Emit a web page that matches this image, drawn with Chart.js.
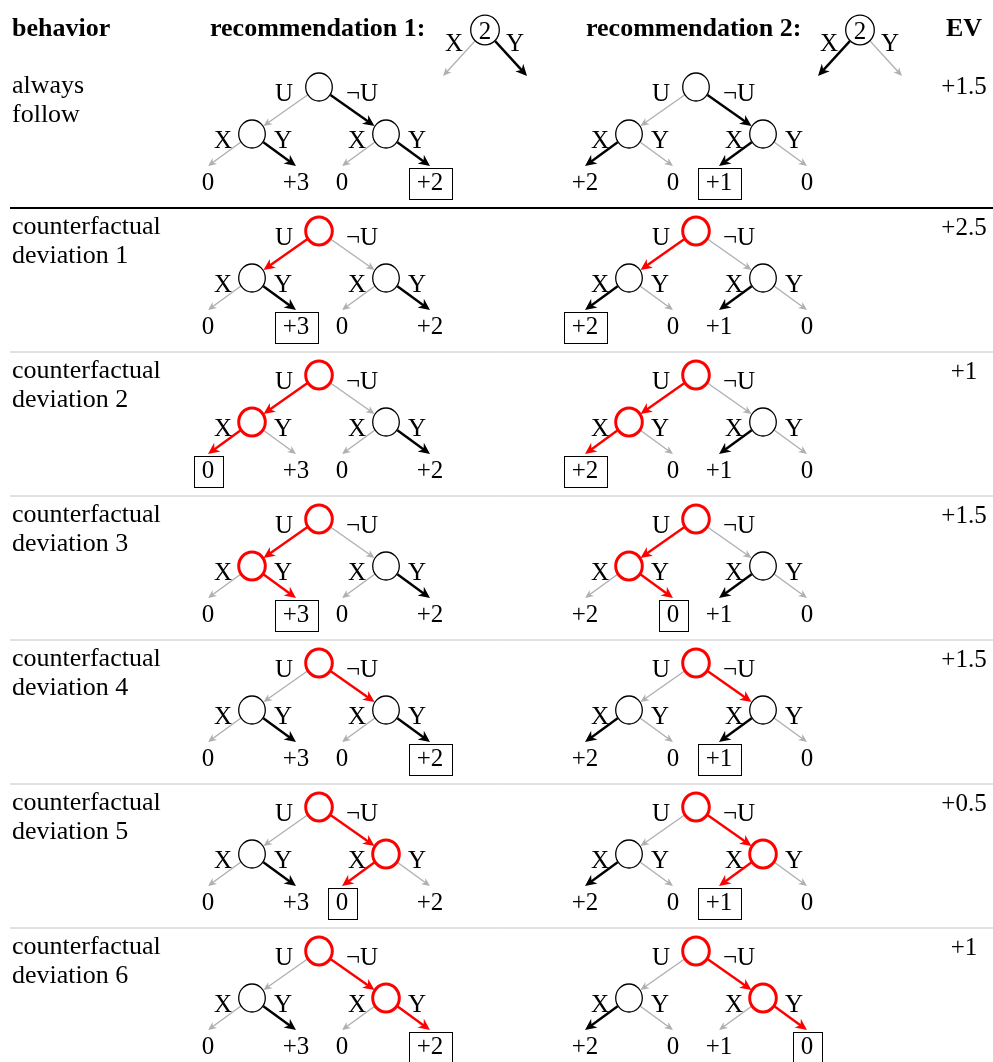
<!DOCTYPE html>
<html>
<head>
<meta charset="utf-8">
<script src="https://cdn.jsdelivr.net/npm/chart.js@4.4.1/dist/chart.umd.min.js"></script>
<style>
  html, body { margin: 0; padding: 0; background: #fff; }
  canvas { display: block; }
</style>
</head>
<body>
<canvas id="fig" width="993" height="1062"></canvas>
<script>
// ---- table content ----
const behaviors = [
  ['always', 'follow'],
  ['counterfactual', 'deviation 1'],
  ['counterfactual', 'deviation 2'],
  ['counterfactual', 'deviation 3'],
  ['counterfactual', 'deviation 4'],
  ['counterfactual', 'deviation 5'],
  ['counterfactual', 'deviation 6'],
];
const evValues = ['+1.5', '+2.5', '+1', '+1.5', '+1.5', '+0.5', '+1'];
const headers = ['behavior', 'recommendation 1:', 'recommendation 2:', 'EV'];

// payoffs at the 4 leaves (U X, U Y, notU X, notU Y)
const rec1Payoffs = ['0', '+3', '0', '+2'];
const rec2Payoffs = ['+2', '0', '+1', '0'];
const rootLabels = ['U', '\u00acU'];
const actionLabels = ['X', 'Y'];

// edge order: root->U, root->notU, U->X, U->Y, notU->X, notU->Y
// g = greyed out, b = recommended/followed, r = deviation
const rec1Edges = ['gbgbgb', 'rggbgb', 'rgrggb', 'rggrgb', 'grgbgb', 'grgbrg', 'grgbgr'];
const rec2Edges = ['gbbgbg', 'rgbgbg', 'rgrgbg', 'rggrbg', 'grbgbg', 'grbgrg', 'grbggr'];
// deviating nodes: root, U child, notU child
const rec1Nodes = ['---', 'r--', 'rr-', 'rr-', 'r--', 'r-r', 'r-r'];
const rec2Nodes = ['---', 'r--', 'rr-', 'rr-', 'r--', 'r-r', 'r-r'];
// index of the reached leaf
const rec1Reached = [3, 1, 0, 1, 3, 2, 3];
const rec2Reached = [2, 0, 0, 1, 2, 2, 3];
// the recommendation at information set 2 (X, Y)
const rec1Header = 'gb';
const rec2Header = 'bg';

// ---- layout ----
const W = 993, H = 1062;
const treeX = [319, 696];
const rowY0 = 87, rowStep = 144;
const childDX = 67, childDY = 47;
const leafDX = 44, leafDY = 32;
const nodeRX = 13.3, nodeRY = 14;
const headRX = 14.3, headRY = 14.8;
const headNodes = [{ x: 485, y: 30 }, { x: 860, y: 30 }];
const serif = '"Liberation Serif", "Times New Roman", serif';

const edgeStyle = {
  g: { color: '#b0b0b0', width: 1.4, head: 8.5, half: 3.8 },
  b: { color: '#000000', width: 2.4, head: 11.5, half: 5.4 },
  r: { color: '#ff0000', width: 2.4, head: 11.5, half: 5.4 },
};

function nodeImage(color, lw, rx, ry) {
  const c = document.createElement('canvas');
  c.width = 2 * Math.ceil(rx + lw / 2 + 1);
  c.height = 2 * Math.ceil(ry + lw / 2 + 1);
  const g = c.getContext('2d');
  g.fillStyle = '#ffffff';
  g.strokeStyle = color;
  g.lineWidth = lw;
  g.beginPath();
  g.ellipse(c.width / 2, c.height / 2, rx, ry, 0, 0, 2 * Math.PI);
  g.fill();
  g.stroke();
  return c;
}
const nodeStyles = {
  plain: nodeImage('#000000', 1.3, nodeRX, nodeRY),
  red: nodeImage('#ff0000', 3, nodeRX, nodeRY),
  head: nodeImage('#000000', 1.3, headRX, headRY),
};

const datasets = [];
const texts = [];
const boxes = [];
const nodePts = [], nodeLooks = [];

function rim(ux, uy, rx, ry) {
  return 1 / Math.sqrt((ux / rx) ** 2 + (uy / ry) ** 2) + 0.5;
}

function addEdge(a, b, toNode, kind, rx, ry) {
  const dx = b.x - a.x, dy = b.y - a.y, len = Math.hypot(dx, dy);
  const ux = dx / len, uy = dy / len;
  const st = edgeStyle[kind];
  const r = rim(ux, uy, rx, ry);
  const start = { x: a.x + ux * r, y: a.y + uy * r };
  const tip = toNode ? { x: b.x - ux * r, y: b.y - uy * r } : { x: b.x, y: b.y };
  const neck = { x: tip.x - ux * st.head * 0.6, y: tip.y - uy * st.head * 0.6 };
  datasets.push({
    data: [start, neck],
    showLine: true,
    borderColor: st.color,
    borderWidth: st.width,
    pointRadius: 0,
    order: 1,
    arrowTip: tip,
    arrowStyle: st,
  });
}

function addNode(p, look) {
  nodePts.push({ x: p.x, y: p.y });
  nodeLooks.push(nodeStyles[look]);
}

function addText(x, y, text, font, align) {
  texts.push({ x, y, text, font, align: align || 'center' });
}

function addTree(ox, oy, edges, nodes, reached, payoffs) {
  const root = { x: ox, y: oy };
  const kids = [{ x: ox - childDX, y: oy + childDY }, { x: ox + childDX, y: oy + childDY }];
  addEdge(root, kids[0], true, edges[0], nodeRX, nodeRY);
  addEdge(root, kids[1], true, edges[1], nodeRX, nodeRY);
  kids.forEach((k, i) => {
    addEdge(k, { x: k.x - leafDX, y: k.y + leafDY }, false, edges[2 + 2 * i], nodeRX, nodeRY);
    addEdge(k, { x: k.x + leafDX, y: k.y + leafDY }, false, edges[3 + 2 * i], nodeRX, nodeRY);
  });
  addNode(root, nodes[0] === 'r' ? 'red' : 'plain');
  addNode(kids[0], nodes[1] === 'r' ? 'red' : 'plain');
  addNode(kids[1], nodes[2] === 'r' ? 'red' : 'plain');
  const small = '25px ' + serif;
  addText(ox - 35, oy + 14, rootLabels[0], small);
  addText(ox + 43, oy + 14, rootLabels[1], small);
  kids.forEach(k => {
    addText(k.x - 29, k.y + 13.5, actionLabels[0], small);
    addText(k.x + 31, k.y + 13.5, actionLabels[1], small);
  });
  const leafX = [kids[0].x - leafDX, kids[0].x + leafDX, kids[1].x - leafDX, kids[1].x + leafDX];
  payoffs.forEach((v, i) => {
    addText(leafX[i], oy + 103, v, small);
    if (i === reached) boxes.push({ x: leafX[i], y: oy + 103, text: v, font: small });
  });
}

// header row
const bold = 'bold 26px ' + serif;
addText(12, 36, headers[0], bold, 'left');
addText(210, 36, headers[1], bold, 'left');
addText(586, 36, headers[2], bold, 'left');
addText(964, 36, headers[3], bold, 'center');
[rec1Header, rec2Header].forEach((h, i) => {
  const n = headNodes[i];
  addEdge(n, { x: n.x - 42, y: n.y + 46 }, false, h[0], headRX, headRY);
  addEdge(n, { x: n.x + 42, y: n.y + 46 }, false, h[1], headRX, headRY);
  addNode(n, 'head');
  addText(n.x, n.y + 8.5, '2', '25px ' + serif);
  addText(n.x - 31, n.y + 21, actionLabels[0], '25px ' + serif);
  addText(n.x + 30, n.y + 21, actionLabels[1], '25px ' + serif);
});

// body rows
behaviors.forEach((lines, r) => {
  const oy = rowY0 + rowStep * r;
  const base = r === 0 ? 93 : 90 + rowStep * r;
  addText(12, base, lines[0], '26px ' + serif, 'left');
  addText(12, base + 29, lines[1], '26px ' + serif, 'left');
  addText(964, r === 0 ? 94 : 91 + rowStep * r, evValues[r], '25px ' + serif, 'center');
  addTree(treeX[0], oy, rec1Edges[r], rec1Nodes[r], rec1Reached[r], rec1Payoffs);
  addTree(treeX[1], oy, rec2Edges[r], rec2Nodes[r], rec2Reached[r], rec2Payoffs);
  if (r > 0) {
    const sy = 208 + rowStep * (r - 1);
    datasets.push({
      data: [{ x: 10, y: sy }, { x: W, y: sy }],
      showLine: true,
      borderColor: r === 1 ? '#000000' : '#c4c4c4',
      borderWidth: r === 1 ? 2 : 1,
      pointRadius: 0,
      order: 2,
    });
  }
});

datasets.push({
  data: nodePts,
  showLine: false,
  pointStyle: nodeLooks,
  pointRadius: nodeRY,
  order: 0,
});

// arrowheads for edge datasets, labels and boxes on top
const treePlugin = {
  id: 'treePlugin',
  afterDatasetDraw(chart, args) {
    const ds = chart.data.datasets[args.index];
    if (!ds.arrowTip) return;
    const xs = chart.scales.x, ys = chart.scales.y;
    const tx = xs.getPixelForValue(ds.arrowTip.x), ty = ys.getPixelForValue(ds.arrowTip.y);
    const sx = xs.getPixelForValue(ds.data[0].x), sy = ys.getPixelForValue(ds.data[0].y);
    const len = Math.hypot(tx - sx, ty - sy);
    const ux = (tx - sx) / len, uy = (ty - sy) / len;
    const st = ds.arrowStyle;
    const ctx = chart.ctx;
    ctx.save();
    ctx.fillStyle = st.color;
    ctx.beginPath();
    ctx.moveTo(tx, ty);
    ctx.lineTo(tx - ux * st.head - uy * st.half, ty - uy * st.head + ux * st.half);
    ctx.lineTo(tx - ux * st.head * 0.7, ty - uy * st.head * 0.7);
    ctx.lineTo(tx - ux * st.head + uy * st.half, ty - uy * st.head - ux * st.half);
    ctx.closePath();
    ctx.fill();
    ctx.restore();
  },
  afterDraw(chart) {
    const xs = chart.scales.x, ys = chart.scales.y;
    const ctx = chart.ctx;
    ctx.save();
    ctx.fillStyle = '#000';
    ctx.textBaseline = 'alphabetic';
    texts.forEach(t => {
      ctx.font = t.font;
      ctx.textAlign = t.align;
      ctx.fillText(t.text, xs.getPixelForValue(t.x), ys.getPixelForValue(t.y));
    });
    ctx.strokeStyle = '#000';
    ctx.lineWidth = 1;
    boxes.forEach(b => {
      ctx.font = b.font;
      const w = ctx.measureText(b.text).width;
      const cx = xs.getPixelForValue(b.x), by = ys.getPixelForValue(b.y);
      ctx.strokeRect(Math.round(cx - w / 2 - 8) + 0.5, Math.round(by - 22) + 0.5, Math.round(w + 16), 31);
    });
    ctx.restore();
  },
};

new Chart(document.getElementById('fig'), {
  type: 'scatter',
  data: { datasets },
  options: {
    responsive: false,
    animation: false,
    events: [],
    layout: { padding: 0, autoPadding: false },
    plugins: { legend: { display: false }, tooltip: { enabled: false } },
    scales: {
      x: { type: 'linear', min: 0, max: W, display: false },
      y: { type: 'linear', min: 0, max: H, reverse: true, display: false },
    },
  },
  plugins: [treePlugin],
});
</script>
</body>
</html>
